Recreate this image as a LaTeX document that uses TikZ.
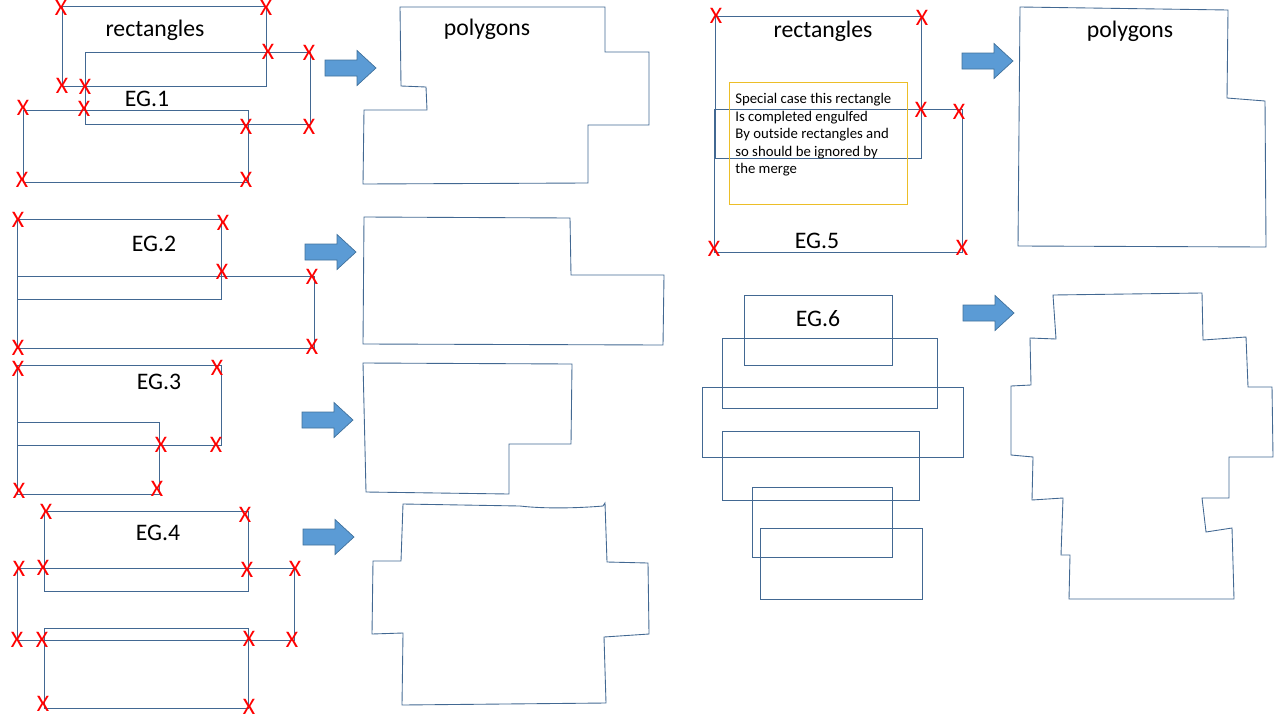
\documentclass[tikz,border=0pt]{standalone}
\usepackage{fontspec}
\setmainfont{Carlito}
\usepackage{xcolor}
\definecolor{edgeblue}{RGB}{66,104,146}
\definecolor{arrowblue}{RGB}{91,155,213}
\definecolor{arrowrim}{RGB}{65,113,156}
\definecolor{noteyellow}{RGB}{236,190,40}

\begin{document}
\begin{tikzpicture}[x=0.02cm,y=-0.02cm,
  rect/.style={draw=edgeblue,line width=0.5pt},
  poly/.style={draw=edgeblue,line width=0.5pt},
  xmark/.style={text=red,inner sep=0pt,font=\fontsize{13.5}{15}\selectfont},
  caption/.style={inner sep=0pt,font=\fontsize{13.5}{16}\selectfont}]
  \useasboundingbox (0,0) rectangle (1280,720);

  % EG.1
  \draw[rect] (62,6) rectangle (266,86);
  \draw[rect] (85,52) rectangle (310,124);
  \draw[rect] (23,110) rectangle (248,182);
  \foreach \p [count=\i] in {{61,8},{266,8},{268,52},{309,53},{62,86},{85,87},
      {23,108},{84,109},{246,127},{309,127},{22,180},{246,180}}
    \node[xmark] (xa\i) at (\p) {X};
  \node[caption] (recta) at (155,30) {rectangles};
  \node[caption] (eg1) at (147,99) {EG.1};
  \node[caption] (polya) at (487,29) {polygons};
  \draw[poly] (400,7) -- (605,7) -- (605,52) -- (649,52) -- (649,125) -- (588,125)
    -- (588,183) -- (363,184) -- (364,110) -- (427,110) -- (426,87) -- (401,86) -- cycle;

  % EG.2
  \draw[rect] (17,219) rectangle (221,299);
  \draw[rect] (17,276) rectangle (314,348);
  \foreach \p [count=\i] in {{18,220},{223,223},{222,272},{312,277},{18,348},{312,347}}
    \node[xmark] (xb\i) at (\p) {X};
  \node[caption] (eg2) at (154,244) {EG.2};
  \draw[poly] (364,217) -- (570,218) -- (571,275) -- (664,275) -- (663,345)
    -- (363,344) -- cycle;

  % EG.3
  \draw[rect] (17,365) rectangle (221,445);
  \draw[rect] (17,422) rectangle (159,494);
  \foreach \p [count=\i] in {{18,369},{217,368},{161,445},{216,445},{19,491},{157,489}}
    \node[xmark] (xc\i) at (\p) {X};
  \node[caption] (eg3) at (159,382) {EG.3};
  \draw[poly] (363,363) -- (572,364) -- (571,444) -- (509,444) -- (509,494)
    -- (366,492) -- cycle;

  % EG.4
  \draw[rect] (44,511) rectangle (248,591);
  \draw[rect] (17,568) rectangle (294,640);
  \draw[rect] (44,628) rectangle (248,708);
  \foreach \p [count=\i] in {{46,512},{245,515},{19,569},{43,568},{247,570},{295,569},
      {17,640},{42,640},{249,639},{292,640},{43,704},{249,707}}
    \node[xmark] (xd\i) at (\p) {X};
  \node[caption] (eg4) at (158,533) {EG.4};
  \draw[poly] (403,504) -- (520,506) .. controls (545,509) and (580,508) .. (603,506)
    -- (605,503) -- (607,562) -- (648,563) -- (649,634) -- (604,637) -- (606,703)
    -- (402,705) -- (403,633) -- (372,634) -- (373,561) -- (401,561) -- cycle;

  % EG.5
  \draw[rect] (715,16) rectangle (921,158);
  \draw[rect] (714,109) rectangle (962,252);
  \draw[noteyellow,line width=0.5pt] (729,82) rectangle (907,204);
  \foreach \p [count=\i] in {{716,16},{922,18},{921,110},{959,112},{714,249},{962,248}}
    \node[xmark] (xe\i) at (\p) {X};
  \node[anchor=north west,inner sep=0pt,align=left,font=\fontsize{8.4}{10}\selectfont]
    (note) at (735,93) {Special case this rectangle\\Is completed engulfed\\
    By outside rectangles and\\so should be ignored by\\the merge};
  \node[caption] (rectb) at (823,31) {rectangles};
  \node[caption] (eg5) at (817,241) {EG.5};
  \node[caption] (polyb) at (1130,31) {polygons};
  \draw[poly] (1020,7) -- (1228,10) -- (1227,98) -- (1265,101) -- (1266,247)
    -- (1018,246) -- cycle;

  % EG.6
  \draw[rect] (744,295) rectangle (892,365);
  \draw[rect] (722,338) rectangle (937,408);
  \draw[rect] (702,387) rectangle (963,457);
  \draw[rect] (722,431) rectangle (919,500);
  \draw[rect] (752,487) rectangle (892,557);
  \draw[rect] (760,528) rectangle (922,599);
  \node[caption] (eg6) at (818,319) {EG.6};
  \draw[poly] (1053,295) -- (1202,293) -- (1203,340) -- (1246,337) -- (1248,387)
    -- (1272,387) -- (1273,457) -- (1229,457) -- (1229,498) -- (1202,498)
    -- (1206,532) -- (1232,528) -- (1234,599) -- (1069,599) -- (1070,555)
    -- (1061,555) -- (1063,498) -- (1032,500) -- (1033,457) -- (1011,455)
    -- (1011,386) -- (1031,385) -- (1030,338) -- (1056,339) -- cycle;

  % block arrows
  \foreach \ax/\ay in {325/68, 305/252, 302/420, 303/537, 962/61, 963/313}
    \draw[fill=arrowblue,draw=arrowrim,line width=0.4pt] (\ax,\ay-8) -- ++(32,0)
      -- ++(0,-9.5) -- ++(19,17.5) -- ++(-19,17.5) -- ++(0,-9.5) -- ++(-32,0) -- cycle;
\end{tikzpicture}
\end{document}
